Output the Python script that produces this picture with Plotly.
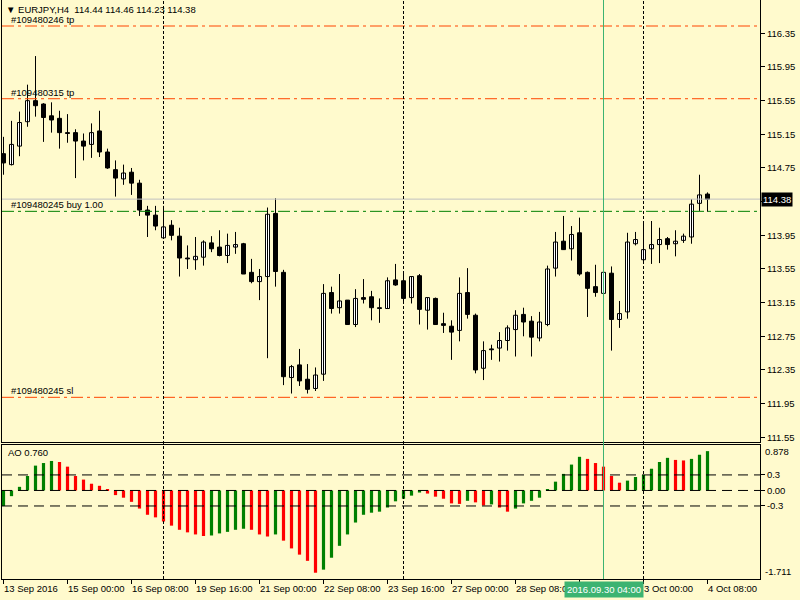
import plotly.graph_objects as go

# ---------------- data (EURJPY H4) ----------------
symbol = "EURJPY,H4"
opens = [114.92, 114.79, 115.01, 115.30, 115.55, 115.51, 115.37, 115.34, 115.17, 115.17,
         115.07, 115.03, 115.19, 114.94, 114.73, 114.62, 114.70, 114.57, 114.25, 114.19,
         113.92, 114.07, 113.94, 113.68, 113.66, 113.69, 113.86, 113.81, 113.71, 113.81,
         113.85, 113.51, 113.40, 113.46, 114.21, 113.51, 112.26, 112.41, 112.24, 112.13,
         112.30, 113.27, 113.09, 113.18, 112.89, 113.21, 113.22, 113.09, 113.08, 113.42,
         113.41, 113.21, 113.47, 113.06, 113.20, 112.90, 112.87, 112.82, 113.27, 113.00,
         112.37, 112.60, 112.61, 112.70, 112.83, 113.01, 112.93, 112.73, 112.89, 113.56,
         113.88, 113.79, 113.98, 113.51, 113.34, 113.26, 113.50, 112.95, 113.04, 113.85,
         113.66, 113.79, 113.84, 113.91, 113.85, 113.89, 113.93, 114.33, 114.44]
highs = [115.12, 115.31, 115.42, 115.74, 116.08, 115.52, 115.53, 115.43, 115.39, 115.21,
         115.16, 115.28, 115.43, 114.98, 114.84, 114.79, 114.75, 114.61, 114.30, 114.30,
         114.30, 114.13, 114.04, 113.83, 113.93, 113.89, 113.94, 114.01, 113.97, 113.99,
         113.86, 113.67, 113.55, 114.28, 114.39, 113.54, 112.41, 112.60, 112.42, 112.38,
         113.37, 113.34, 113.49, 113.18, 113.31, 113.43, 113.29, 113.20, 113.45, 113.61,
         113.51, 113.46, 113.49, 113.21, 113.21, 113.03, 112.94, 113.45, 113.56, 113.02,
         112.69, 112.65, 112.80, 112.88, 113.06, 113.09, 112.99, 113.04, 113.59, 113.99,
         114.18, 114.06, 114.16, 113.52, 113.60, 113.51, 113.58, 113.17, 113.98, 113.99,
         114.09, 114.12, 114.04, 113.93, 114.01, 113.97, 114.38, 114.67, 114.46]
lows = [114.67, 114.78, 114.89, 115.24, 115.36, 115.06, 115.17, 114.98, 115.05, 114.63,
        114.84, 114.87, 114.88, 114.74, 114.41, 114.55, 114.43, 114.18, 113.93, 114.01,
        113.92, 113.89, 113.46, 113.55, 113.54, 113.59, 113.75, 113.70, 113.62, 113.73,
        113.49, 113.38, 113.18, 112.49, 113.34, 112.17, 112.07, 112.16, 112.07, 112.10,
        112.22, 113.02, 113.02, 112.89, 112.86, 113.14, 112.94, 112.91, 113.08, 113.35,
        113.16, 113.14, 112.89, 112.83, 112.89, 112.79, 112.47, 112.69, 112.96, 112.31,
        112.23, 112.47, 112.45, 112.58, 112.51, 112.75, 112.51, 112.69, 112.87, 113.46,
        113.78, 113.65, 113.47, 112.98, 113.22, 113.26, 112.58, 112.85, 112.96, 113.83,
        113.61, 113.61, 113.62, 113.78, 113.70, 113.86, 113.85, 114.24, 114.23]
closes = [114.81, 115.03, 115.29, 115.55, 115.49, 115.35, 115.32, 115.17, 115.16, 115.07,
          115.01, 115.17, 114.94, 114.75, 114.63, 114.69, 114.57, 114.25, 114.19, 114.06,
          114.05, 113.95, 113.68, 113.67, 113.70, 113.87, 113.79, 113.71, 113.83, 113.84,
          113.49, 113.40, 113.46, 114.20, 113.52, 112.27, 112.39, 112.22, 112.12, 112.29,
          113.26, 113.08, 113.17, 112.89, 113.20, 113.19, 113.09, 113.08, 113.41, 113.36,
          113.20, 113.46, 113.07, 113.21, 112.89, 112.88, 112.80, 113.26, 113.01, 112.35,
          112.58, 112.59, 112.70, 112.85, 113.00, 112.92, 112.74, 112.92, 113.55, 113.87,
          113.78, 113.96, 113.49, 113.32, 113.27, 113.51, 112.95, 113.02, 113.87, 113.90,
          113.78, 113.84, 113.90, 113.84, 113.88, 113.94, 114.32, 114.43, 114.38]
ao = [-0.30, -0.11, 0.07, 0.28, 0.48, 0.53, 0.57, 0.55, 0.46, 0.28,
      0.21, 0.13, 0.09, 0.02, -0.09, -0.14, -0.22, -0.35, -0.47, -0.52,
      -0.60, -0.68, -0.76, -0.81, -0.85, -0.88, -0.87, -0.83, -0.80, -0.76,
      -0.74, -0.76, -0.85, -0.89, -0.85, -0.97, -1.12, -1.24, -1.36, -1.59,
      -1.53, -1.30, -1.07, -0.85, -0.62, -0.47, -0.43, -0.41, -0.33, -0.21,
      -0.16, -0.10, -0.04, -0.06, -0.12, -0.16, -0.25, -0.26, -0.20, -0.23,
      -0.29, -0.27, -0.33, -0.41, -0.35, -0.25, -0.20, -0.14, 0.01, 0.17,
      0.32, 0.50, 0.65, 0.61, 0.53, 0.46, 0.28, 0.15, 0.19, 0.26,
      0.30, 0.42, 0.55, 0.63, 0.59, 0.58, 0.61, 0.69, 0.76]
ao_current = 0.760
ao_scale = [-1.711, 0.878]
ao_levels = [0.3, 0.0, -0.3]

tick_idx = [0, 8, 16, 24, 32, 40, 48, 56, 64, 72, 80, 88]
tick_labels = ["13 Sep 2016", "15 Sep 00:00", "16 Sep 08:00", "19 Sep 16:00", "21 Sep 00:00",
               "22 Sep 08:00", "23 Sep 16:00", "27 Sep 00:00", "28 Sep 08:00", "29 Sep 16:00",
               "3 Oct 00:00", "4 Oct 08:00"]
price_ticks = [116.35, 115.95, 115.55, 115.15, 114.75, 114.35, 113.95, 113.55, 113.15,
               112.75, 112.35, 111.95, 111.55]
price_tick_text = ["116.35", "115.95", "115.55", "115.15", "114.75", "", "113.95", "113.55",
                   "113.15", "112.75", "112.35", "111.95", "111.55"]
week_starts = [20, 50, 80]
marker_bar = 75
marker_label = "2016.09.30 04:00"
order_levels = [116.437, 115.573, 114.235, 112.025]
order_labels = ["#109480246 tp", "#109480315 tp", "#109480245 buy 1.00", "#109480245 sl"]
order_colors = ["#FF4500", "#FF4500", "#008000", "#FF4500"]

# ---------------- styling ----------------
FONT = "Liberation Sans, Arial, sans-serif"
FS = 9.5
BG = "#FFFACD"
GREEN = "#008000"
RED = "#FF0000"

n = len(closes)
idx = list(range(n))

wick_x, wick_y = [], []
for i in idx:
    wick_x += [i, i, None]
    wick_y += [lows[i], highs[i], None]

body_base = [min(o, c) for o, c in zip(opens, closes)]
body_len = [max(abs(c - o), 0.006) for o, c in zip(opens, closes)]
body_col = ["#FFFFFF" if c > o else "#000000" for o, c in zip(opens, closes)]
ao_col = [GREEN] + [GREEN if ao[i] > ao[i - 1] else RED for i in range(1, n)]

fig = go.Figure()
fig.add_trace(go.Scatter(x=wick_x, y=wick_y, mode="lines", line=dict(color="black", width=1),
                         xaxis="x", yaxis="y", hoverinfo="skip", showlegend=False))
fig.add_trace(go.Bar(x=idx, y=body_len, base=body_base, width=0.5,
                     marker=dict(color=body_col, line=dict(color="black", width=1)),
                     xaxis="x", yaxis="y", showlegend=False))
fig.add_trace(go.Bar(x=idx, y=ao, width=0.4, marker=dict(color=ao_col, line=dict(width=0)),
                     xaxis="x2", yaxis="y2", showlegend=False))

shapes = []
for lvl, col in zip(order_levels, order_colors):
    shapes.append(dict(type="line", xref="x domain", x0=0, x1=1, yref="y", y0=lvl, y1=lvl,
                       line=dict(color=col, width=1, dash="12px,4px,3px,4px")))
shapes.append(dict(type="line", xref="x domain", x0=0, x1=1, yref="y", y0=closes[-1], y1=closes[-1],
                   line=dict(color="#C0C0C0", width=1)))
for lvl in ao_levels:
    shapes.append(dict(type="line", xref="x2 domain", x0=0, x1=1, yref="y2", y0=lvl, y1=lvl,
                       line=dict(color="black", width=1, dash="10px,6px")))
for w in week_starts:
    shapes.append(dict(type="line", xref="x", x0=w, x1=w, yref="paper", y0=0, y1=1,
                       line=dict(color="black", width=1, dash="3px,2px")))
shapes.append(dict(type="line", xref="x", x0=marker_bar, x1=marker_bar, yref="paper", y0=0, y1=1,
                   line=dict(color="#3CB371", width=1)))

ann = []
sp = "\u00a0"
title = (f"▼{sp}{symbol}{sp}{sp}{opens[-1]:.2f} {highs[-1]:.2f} {lows[-1]:.2f} {closes[-1]:.2f}")
ann.append(dict(text=title, xref="x domain", x=0, yref="y domain", y=1, xanchor="left", yanchor="top",
                xshift=3, yshift=-3, showarrow=False, borderpad=0, font=dict(size=FS, color="black", family=FONT)))
for lvl, lab in zip(order_levels, order_labels):
    ann.append(dict(text=lab, xref="x domain", x=0, yref="y", y=lvl, xanchor="left", yanchor="bottom",
                    xshift=8, yshift=0, showarrow=False, borderpad=0,
                    font=dict(size=FS, color="black", family=FONT)))
ann.append(dict(text=f"{closes[-1]:.2f}", xref="x domain", x=1, yref="y", y=closes[-1],
                xanchor="left", yanchor="middle", xshift=1, showarrow=False, bgcolor="black",
                borderpad=1, font=dict(size=FS, color="white", family=FONT)))
ann.append(dict(text=f"AO {ao_current:.3f}", xref="x2 domain", x=0, yref="y2 domain", y=1,
                xanchor="left", yanchor="top", xshift=5, yshift=-1, showarrow=False, borderpad=0,
                font=dict(size=FS, color="black", family=FONT)))
ann.append(dict(text=f"{ao_scale[1]:.3f}", xref="x2 domain", x=1, yref="y2 domain", y=1,
                xanchor="left", yanchor="top", xshift=4, yshift=0, showarrow=False, borderpad=0,
                font=dict(size=FS, color="black", family=FONT)))
ann.append(dict(text=f"{ao_scale[0]:.3f}", xref="x2 domain", x=1, yref="y2 domain", y=0,
                xanchor="left", yanchor="bottom", xshift=4, yshift=1, showarrow=False, borderpad=0,
                font=dict(size=FS, color="black", family=FONT)))
for i, lab in zip(tick_idx, tick_labels):
    if abs(i - marker_bar) < 5:
        continue  # hidden under the highlighted time label, as in the terminal
    ann.append(dict(text=lab, xref="x2", x=i, yref="paper", y=0, xanchor="left", yanchor="top",
                    xshift=-1, yshift=-3, showarrow=False, borderpad=0,
                    font=dict(size=FS, color="black", family=FONT)))
ann.append(dict(text=marker_label, xref="x2", x=marker_bar, yref="paper", y=0, xanchor="center",
                yanchor="top", yshift=-2, showarrow=False, bgcolor="#3CB371", borderpad=2,
                font=dict(size=FS, color="white", family=FONT)))

X_RANGE = [-0.1875, 94.5625]
axis_common = dict(showgrid=False, zeroline=False, linecolor="black", linewidth=1,
                   tickcolor="black", tickfont=dict(size=FS, color="black", family=FONT))

fig.update_layout(
    width=800, height=600,
    margin=dict(l=2, r=40, t=0, b=21),
    paper_bgcolor=BG, plot_bgcolor=BG,
    barmode="overlay", showlegend=False,
    xaxis=dict(domain=[0, 1], anchor="y", range=X_RANGE, showticklabels=False, ticks="",
               showline=True, mirror=False, **axis_common),
    yaxis=dict(domain=[0.2366, 1], anchor="x", range=[111.494, 116.746], side="right",
               tickvals=price_ticks, ticktext=price_tick_text, ticks="outside", ticklen=4,
               showline=True, mirror=True, **axis_common),
    xaxis2=dict(domain=[0, 1], anchor="y2", range=X_RANGE, tickvals=tick_idx,
                ticktext=["" for _ in tick_idx], ticks="outside", ticklen=4,
                showline=True, mirror=True, **axis_common),
    yaxis2=dict(domain=[0, 0.2314], anchor="x2", range=ao_scale, side="right",
                tickvals=ao_levels, ticktext=["0.3", "0.00", "-0.3"], ticks="outside", ticklen=4,
                showline=True, mirror=True, **axis_common),
    shapes=shapes, annotations=ann,
)

fig.write_html("out.html", config={"displayModeBar": False})
